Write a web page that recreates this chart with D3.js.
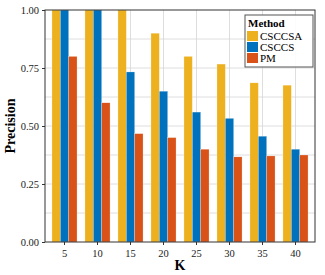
<!DOCTYPE html>
<html>
<head>
<meta charset="utf-8">
<script src="https://cdn.jsdelivr.net/npm/d3@7"></script>
<style>
  body { margin: 0; background: #fff; }
  svg { display: block; }
</style>
</head>
<body>
<svg id="chart" width="325" height="275"></svg>
<script>
// data
const kValues = ["5", "10", "15", "20", "25", "30", "35", "40"];
const methods = ["CSCCSA", "CSCCS", "PM"];
const csccsa = [1.0, 1.0, 1.0, 0.90, 0.80, 0.767, 0.686, 0.676];
const csccs = [1.0, 1.0, 0.733, 0.65, 0.56, 0.533, 0.456, 0.40];
const pm = [0.80, 0.60, 0.467, 0.45, 0.40, 0.367, 0.371, 0.375];
const yTicks = [0, 0.25, 0.5, 0.75, 1.0];
const yGrid = [0.125, 0.25, 0.375, 0.5, 0.625, 0.75, 0.875];

const colors = {CSCCSA: "#EDB120", CSCCS: "#0072BD", PM: "#D95319"};
const fontFamily = "'Liberation Serif', 'DejaVu Serif', serif";

const svg = d3.select("#chart");
const margin = {top: 10, right: 10, bottom: 33, left: 45};
const width = +svg.attr("width") - margin.left - margin.right;
const height = +svg.attr("height") - margin.top - margin.bottom;

const series = methods.map((m, i) => ({method: m, values: [csccsa, csccs, pm][i]}));
const rows = kValues.map((k, i) => ({k, vals: series.map(s => ({method: s.method, v: s.values[i]}))}));

const g = svg.append("g").attr("transform", `translate(${margin.left},${margin.top})`);

const x = d3.scaleBand()
  .domain(kValues)
  .range([3, width - 3])
  .paddingInner(0.24)
  .paddingOuter(0.12);

const xi = d3.scaleBand()
  .domain(methods)
  .range([0, x.bandwidth()]);

const y = d3.scaleLinear()
  .domain([0, 1])
  .range([height, 0]);

// grid
g.append("g").selectAll("line.h")
  .data(yGrid).join("line")
  .attr("x1", 0).attr("x2", width)
  .attr("y1", d => y(d)).attr("y2", d => y(d))
  .attr("stroke", "#d6d6d6").attr("stroke-width", 0.8);

g.append("g").selectAll("line.v")
  .data(kValues).join("line")
  .attr("x1", d => x(d) + x.bandwidth() / 2).attr("x2", d => x(d) + x.bandwidth() / 2)
  .attr("y1", 0).attr("y2", height)
  .attr("stroke", "#d6d6d6").attr("stroke-width", 0.8);

// bars
g.append("g").selectAll("g")
  .data(rows).join("g")
  .attr("transform", d => `translate(${x(d.k)},0)`)
  .selectAll("rect")
  .data(d => d.vals).join("rect")
  .attr("x", d => xi(d.method))
  .attr("width", xi.bandwidth())
  .attr("y", d => y(d.v))
  .attr("height", d => height - y(d.v))
  .attr("fill", d => colors[d.method])
  .attr("stroke", "#fff")
  .attr("stroke-opacity", 0.6)
  .attr("stroke-width", 0.4);

// axes
const xAxis = g.append("g")
  .attr("transform", `translate(0,${height})`)
  .call(d3.axisBottom(x).tickSize(3).tickSizeOuter(0));
const yAxis = g.append("g")
  .call(d3.axisLeft(y).tickValues(yTicks).tickFormat(d3.format(".2f")).tickSize(3).tickSizeOuter(0));

[xAxis, yAxis].forEach(a => {
  a.select(".domain").remove();
  a.selectAll("line").attr("stroke", "#333");
  a.selectAll("text").attr("font-family", fontFamily).attr("font-size", 10.5).attr("fill", "#222");
});
xAxis.selectAll("text").attr("dy", "0.9em");

// frame
g.append("rect")
  .attr("width", width).attr("height", height)
  .attr("fill", "none").attr("stroke", "#333").attr("stroke-width", 1);

// axis labels
svg.append("text")
  .attr("x", margin.left + width / 2).attr("y", 270)
  .attr("text-anchor", "middle")
  .attr("font-family", fontFamily).attr("font-weight", "bold").attr("font-size", 14)
  .text("K");

svg.append("text")
  .attr("transform", `translate(15,${margin.top + height / 2}) rotate(-90)`)
  .attr("text-anchor", "middle")
  .attr("font-family", fontFamily).attr("font-weight", "bold").attr("font-size", 14)
  .text("Precision");

// legend
const legend = svg.append("g").attr("transform", "translate(245,15)");
legend.append("rect")
  .attr("width", 68).attr("height", 52)
  .attr("fill", "#fff").attr("fill-opacity", 0.9)
  .attr("stroke", "#555").attr("stroke-width", 1);
legend.append("text")
  .attr("x", 3).attr("y", 12)
  .attr("font-family", fontFamily).attr("font-weight", "bold").attr("font-size", 11)
  .text("Method");
const item = legend.selectAll("g.item")
  .data(methods).join("g")
  .attr("transform", (d, i) => `translate(2,${16 + i * 11})`);
item.append("rect")
  .attr("width", 11).attr("height", 10)
  .attr("fill", d => colors[d]);
item.append("text")
  .attr("x", 13).attr("y", 9)
  .attr("font-family", fontFamily).attr("font-size", 11)
  .text(d => d);
</script>
</body>
</html>
